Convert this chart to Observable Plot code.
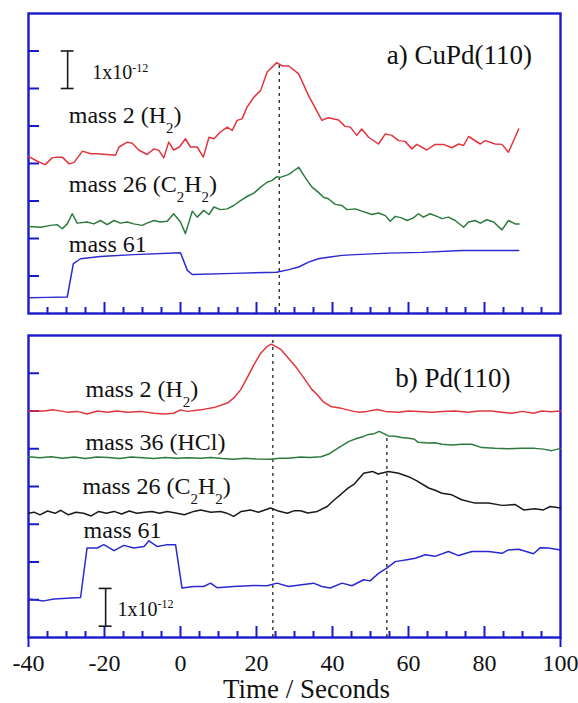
<!DOCTYPE html>
<html>
<head>
<meta charset="utf-8">
<script src="https://cdn.jsdelivr.net/npm/d3@7"></script>
<script src="https://cdn.jsdelivr.net/npm/@observablehq/plot@0.6"></script>
<style>
  html, body { margin: 0; padding: 0; background: #fff; }
  #chart svg { display: block; font-family: 'Liberation Serif', 'Times New Roman', 'DejaVu Serif', serif; }
</style>
</head>
<body>
<div id="chart"></div>
<script>
// ---------- data: [time (s), signal (units of 1x10^-12)] ----------
// Panel a) CuPd(110)
const aMass2 = [[-40,4.19],[-37.7,4.06],[-35.6,3.97],[-33.8,4.15],[-32.6,4.17],[-31.1,4.17],[-29.3,3.99],[-28,4.03],[-25.8,4.33],[-23.6,4.26],[-21.9,4.26],[-19.3,4.24],[-17.1,4.22],[-16.2,4.44],[-14,4.57],[-12.7,4.54],[-11,4.36],[-8.8,4.24],[-7,4.39],[-5.7,4.35],[-4.4,4.15],[-3.1,4.57],[-1.8,4.36],[-0.3,4.44],[1.3,4.66],[2.6,4.44],[4.4,4.44],[6,4.17],[7.5,4.7],[8.8,4.66],[10.5,4.84],[12.3,4.97],[13.6,4.88],[14.9,5.15],[16.2,5.19],[17.5,5.5],[19.3,5.77],[21.1,5.95],[22.8,6.44],[25.3,6.69],[26.8,6.6],[28.5,6.6],[31.1,6.39],[33.7,5.81],[37.2,5.15],[38.9,5.22],[41.6,5.16],[43.3,4.99],[44.7,4.97],[46.4,4.75],[47.7,4.92],[49.5,4.7],[52.1,4.52],[53.9,4.79],[55.6,4.75],[57.4,4.61],[59.1,4.59],[60.9,4.39],[62.2,4.51],[64.8,4.36],[67,4.51],[69.2,4.51],[71.4,4.42],[73.2,4.52],[74.5,4.48],[75.8,4.72],[78.9,4.52],[80.2,4.61],[82.8,4.52],[84.6,4.51],[86.3,4.3],[89,4.92]];
const aMass26 = [[-40,2.32],[-36.8,2.3],[-34.2,2.35],[-32.5,2.37],[-31.1,2.26],[-29.8,2.39],[-28.5,2.66],[-27.2,2.41],[-24.6,2.44],[-22.8,2.39],[-21.1,2.48],[-19.3,2.37],[-17.5,2.48],[-15.8,2.41],[-14,2.44],[-12.3,2.39],[-10.1,2.35],[-8.8,2.41],[-7,2.48],[-5.3,2.44],[-3.5,2.46],[-1.8,2.66],[0,2.44],[1.3,2.13],[3.1,2.73],[4.4,2.57],[6.1,2.75],[7.5,2.64],[8.8,2.84],[10.5,2.77],[12.3,2.79],[14,2.88],[15.8,3.01],[17.5,3.12],[19.3,3.21],[21.1,3.37],[22.8,3.5],[24.1,3.55],[25.4,3.65],[26.3,3.63],[28.5,3.71],[31.1,3.9],[32.8,3.63],[34.6,3.37],[36.3,3.23],[37.6,3.1],[38.9,3.06],[40.7,2.91],[42.5,2.88],[43.8,2.77],[46,2.79],[47.7,2.73],[50.4,2.64],[52.1,2.68],[53.9,2.61],[55.2,2.46],[56.5,2.59],[58.2,2.55],[59.6,2.48],[61.3,2.55],[62.6,2.66],[63.9,2.57],[65.7,2.66],[67.5,2.59],[68.8,2.53],[70.5,2.57],[72.3,2.48],[74.5,2.3],[75.8,2.44],[77.5,2.48],[78.9,2.41],[80.6,2.5],[82.4,2.44],[84.6,2.23],[86.3,2.48],[88.1,2.39],[89.1,2.39]];
const aMass61 = [[-40,0.42],[-35,0.43],[-29.8,0.44],[-28.2,1.33],[-26.3,1.46],[-21.1,1.52],[-12.3,1.57],[0,1.62],[1.8,1.15],[3.1,1.04],[14,1.07],[25.3,1.1],[28.5,1.17],[31.1,1.24],[33.7,1.37],[36.3,1.46],[38.9,1.5],[42.5,1.55],[46,1.57],[54.7,1.61],[63.5,1.63],[74,1.68],[81.1,1.68],[89,1.68]];

// Panel b) Pd(110)
const bMass2 = [[-40,6.0],[-36,6.0],[-33.3,6.03],[-29.8,5.97],[-27.2,5.99],[-24.6,5.92],[-21.9,6.0],[-19.3,5.97],[-16.7,6.0],[-14,5.97],[-10.5,5.99],[-7,5.94],[-4.4,5.92],[-1.8,5.94],[0,6.03],[1.8,5.99],[5.3,6.03],[8.8,6.09],[12.3,6.21],[14,6.34],[15.8,6.56],[17.5,6.87],[19.3,7.22],[21.1,7.53],[22.8,7.71],[23.9,7.77],[26.3,7.64],[28.4,7.4],[30.5,7.15],[32.5,6.87],[34.5,6.58],[36,6.43],[37.5,6.25],[39.5,6.12],[42.3,6.07],[45.6,5.99],[46.8,5.97],[49.1,5.99],[51.8,6.04],[53.9,5.99],[57.4,5.97],[60,6.0],[62.6,5.99],[66.1,5.97],[69,5.99],[72.3,6.0],[75.8,5.97],[78.5,6.0],[81.9,6.0],[84.5,5.97],[87.2,5.94],[90,5.99],[92.9,5.94],[95.1,6.0],[97.5,5.98],[100,6.0]];
const bMass36 = [[-40,4.79],[-37,4.76],[-34,4.79],[-31,4.75],[-28,4.78],[-25,4.74],[-22,4.78],[-19,4.77],[-16,4.74],[-13,4.78],[-10,4.76],[-7,4.74],[-4,4.77],[-1,4.75],[2,4.76],[5.3,4.75],[8,4.77],[11,4.74],[14,4.72],[17,4.75],[20,4.73],[23.7,4.72],[26,4.75],[28.4,4.75],[31.6,4.78],[34,4.77],[37,4.79],[39,4.86],[40.7,4.97],[42.5,5.08],[44.2,5.19],[46.5,5.28],[48,5.32],[49.5,5.38],[51,5.4],[52.3,5.46],[54.7,5.34],[56.5,5.33],[58.2,5.3],[60,5.28],[61.5,5.26],[62.5,5.17],[65.3,5.15],[67,5.16],[68.8,5.12],[71.4,5.1],[74,5.12],[76.6,5.12],[79.3,5.03],[82.8,5.01],[86.3,5.0],[89.8,5.01],[93.3,5.01],[95.5,4.99],[97.7,4.95],[100,5.01]];
const bMass26 = [[-40,3.29],[-38.5,3.32],[-37,3.25],[-35,3.35],[-33,3.29],[-31.5,3.37],[-29.5,3.25],[-27.5,3.32],[-25.5,3.29],[-23.5,3.22],[-21.5,3.34],[-19.5,3.29],[-17.5,3.34],[-15.5,3.27],[-13.5,3.35],[-11.5,3.29],[-9.5,3.32],[-7.5,3.34],[-5.5,3.29],[-3.5,3.34],[-1.3,3.3],[1,3.25],[3.5,3.34],[5.3,3.38],[8,3.32],[10.5,3.34],[12,3.3],[14,3.21],[16,3.34],[18.4,3.38],[20.5,3.32],[23.7,3.43],[25.5,3.36],[28.1,3.29],[30,3.36],[31.6,3.36],[33.5,3.3],[36,3.34],[38.6,3.47],[40.5,3.65],[42.3,3.8],[44,3.95],[45.8,4.07],[48.2,4.35],[50.5,4.4],[52,4.33],[54.7,4.4],[57.4,4.35],[60,4.26],[62.2,4.15],[65.3,3.96],[67,3.9],[68.8,3.82],[71.4,3.78],[74,3.65],[77.5,3.56],[81.1,3.56],[84.6,3.5],[88.1,3.52],[90.3,3.38],[93.3,3.41],[95.5,3.38],[97.3,3.47],[100,3.43]];
const bMass61 = [[-40,1.02],[-36,0.97],[-33.3,1.02],[-29.8,1.04],[-26.3,1.06],[-24.6,2.37],[-21.9,2.37],[-20.2,2.46],[-17.5,2.3],[-14.9,2.44],[-12.3,2.37],[-9.6,2.41],[-8.3,2.56],[-6.1,2.41],[-3.5,2.46],[-1.3,2.46],[0.4,1.31],[3.5,1.35],[6.1,1.35],[7.9,1.44],[9.6,1.32],[14,1.35],[19.3,1.38],[22.8,1.37],[25.4,1.44],[28.4,1.35],[31.9,1.4],[35,1.44],[37.2,1.35],[39.4,1.31],[42.5,1.44],[45.1,1.37],[48.2,1.53],[49.9,1.5],[52.1,1.7],[54.3,1.84],[56.5,2.01],[59.6,2.06],[61.8,2.1],[64.4,2.19],[67,2.15],[70.5,2.28],[73.2,2.17],[76.7,2.28],[81.1,2.28],[84.6,2.23],[86.3,2.32],[89,2.34],[92.9,2.22],[94.7,2.38],[96.8,2.37],[100,2.32]];

// peak-time markers (s)
const aPeakTimes = [26];
const bPeakTimes = [24.3, 54.3];

// axis ticks and labels
const xMajorTicks = [-40, -20, 0, 20, 40, 60, 80, 100];
const xMinorTicks = d3.range(-35, 100, 5).filter(d => d % 20 !== 0);
const yTicks = [1, 2, 3, 4, 5, 6, 7];
const xTitle = "Time / Seconds";
const aTitle = "a) CuPd(110)";
const bTitle = "b) Pd(110)";
const scaleLabel = "1x10⁻¹²";
const aLabels = ["mass 2 (H₂)", "mass 26 (C₂H₂)", "mass 61"];
const bLabels = ["mass 2 (H₂)", "mass 36 (HCl)", "mass 26 (C₂H₂)", "mass 61"];

// ---------- styling ----------
const FRAME = "#1a1acc";
const RED = "#e2343c", GREEN = "#2e7a3e", BLUE = "#2a2ad0", BLACK = "#1a1a1a";
const FONT = "'Liberation Serif', 'Times New Roman', 'DejaVu Serif', serif";

function line(data, color) {
  return Plot.line(data, {x: d => d[0], y: d => d[1], stroke: color, strokeWidth: 1.5, curve: "linear"});
}
function frameMarks(majors) {
  return [
    Plot.frame({stroke: FRAME, strokeWidth: 2.4}),
    Plot.axisY(yTicks, {anchor: "left", tickSize: -11, stroke: FRAME, strokeWidth: 2, fill: "none", label: null}),
    Plot.axisX(majors, {anchor: "bottom", tickSize: -11, stroke: FRAME, strokeWidth: 2, fill: "none", label: null}),
    Plot.axisX(xMinorTicks, {anchor: "bottom", tickSize: -6, stroke: FRAME, strokeWidth: 2, fill: "none", label: null})
  ];
}
function scaleBar(t, v0, v1) {
  const bar = [{t, v0, v1}];
  return [
    Plot.ruleX(bar, {x: "t", y1: "v0", y2: "v1", stroke: BLACK, strokeWidth: 1.6}),
    Plot.ruleY(bar, {y: "v0", x1: d => d.t - 1.7, x2: d => d.t + 1.7, stroke: BLACK, strokeWidth: 1.6}),
    Plot.ruleY(bar, {y: "v1", x1: d => d.t - 1.7, x2: d => d.t + 1.7, stroke: BLACK, strokeWidth: 1.6})
  ];
}
const txt = {textAnchor: "start", lineAnchor: "bottom", fontFamily: FONT};
const common = {
  width: 578,
  marginLeft: 28,
  marginRight: 18,
  x: {domain: [-40, 100], axis: null},
  y: {domain: [0, 8], axis: null},
  style: {fontFamily: FONT, color: "#111", background: "#fff", overflow: "visible"}
};

// ---------- panel a ----------
const chartA = Plot.plot({
  ...common,
  height: 320,
  marginTop: 13,
  marginBottom: 7,
  marks: [
    ...frameMarks([-20, 0, 20, 40, 60, 80]),
    Plot.ruleX(aPeakTimes, {x: d => d, y1: 0, y2: 6.66, stroke: "#333", strokeWidth: 1.4, strokeDasharray: "3,4"}),
    line(aMass2, RED),
    line(aMass26, GREEN),
    line(aMass61, BLUE),
    ...scaleBar(-29.7, 6, 7),
    Plot.text([scaleLabel], {...txt, x: -23.2, y: 6.26, text: d => d, fontSize: 20}),
    Plot.text(aLabels, {...txt, x: -29.4, y: (d, i) => [5.07, 3.23, 1.63][i], text: d => d, fontSize: 24}),
    Plot.text([aTitle], {...txt, x: 54.3, y: 6.66, text: d => d, fontSize: 27})
  ]
});

// ---------- panel b ----------
const chartB = Plot.plot({
  ...common,
  height: 383,
  marginTop: 15,
  marginBottom: 66,
  marks: [
    ...frameMarks([-20, 0, 20, 40, 60, 80]),
    Plot.axisX([-40, 100], {anchor: "bottom", tickSize: 10, stroke: FRAME, strokeWidth: 2, fill: "none", label: null}),
    Plot.axisX(xMajorTicks, {anchor: "bottom", tickSize: 0, tickPadding: 16, fontSize: 24, fontFamily: FONT, fill: "#111", label: null, tickFormat: d => String(d)}),
    Plot.text([xTitle], {frameAnchor: "bottom", dx: 12, dy: 60, text: d => d, lineAnchor: "bottom", fontSize: 27, fontFamily: FONT}),
    Plot.ruleX(bPeakTimes, {x: d => d, y1: 0, y2: (d, i) => [8, 5.3][i], stroke: "#333", strokeWidth: 1.4, strokeDasharray: "3,4"}),
    line(bMass2, RED),
    line(bMass36, GREEN),
    line(bMass26, BLACK),
    line(bMass61, BLUE),
    ...scaleBar(-19.7, 0.3, 1.3),
    Plot.text([scaleLabel], {...txt, x: -16.6, y: 0.58, text: d => d, fontSize: 20}),
    Plot.text(bLabels, {...txt, x: (d, i) => [-25, -25, -25.8, -25.5][i], y: (d, i) => [6.38, 4.97, 3.81, 2.64][i], text: d => d, fontSize: 24}),
    Plot.text([bTitle], {...txt, x: 56.5, y: 6.63, text: d => d, fontSize: 27})
  ]
});

// ---------- render sub/superscripts as shifted tspans ----------
const SUB = {"₀":"0","₁":"1","₂":"2","₃":"3","₄":"4","₅":"5","₆":"6","₇":"7","₈":"8","₉":"9"};
const SUP = {"⁻":"-","¹":"1","²":"2","³":"3","⁰":"0","⁴":"4","⁵":"5","⁶":"6","⁷":"7","⁸":"8","⁹":"9"};
function richify(svg) {
  svg.querySelectorAll("text").forEach(t => {
    const s = t.textContent;
    if (!/[₀-₉⁰-⁹⁻¹²³]/.test(s)) return;
    const fsEl = t.closest("[font-size]");
    const fs = fsEl ? parseFloat(fsEl.getAttribute("font-size")) : 20;
    const parts = [];
    for (const ch of s) {
      const kind = SUB[ch] ? "sub" : SUP[ch] ? "sup" : "n";
      const c = SUB[ch] || SUP[ch] || ch;
      if (parts.length && parts[parts.length - 1].kind === kind) parts[parts.length - 1].s += c;
      else parts.push({kind, s: c});
    }
    while (t.firstChild) t.removeChild(t.firstChild);
    let shift = 0;
    for (const p of parts) {
      const ts = document.createElementNS("http://www.w3.org/2000/svg", "tspan");
      const target = p.kind === "sub" ? fs * 0.42 : p.kind === "sup" ? -fs * 0.36 : 0;
      ts.setAttribute("dy", target - shift);
      shift = target;
      if (p.kind !== "n") ts.setAttribute("font-size", fs * (p.kind === "sub" ? 0.62 : 0.6));
      ts.textContent = p.s;
      t.appendChild(ts);
    }
  });
}
richify(chartA);
richify(chartB);

const root = document.getElementById("chart");
root.appendChild(chartA);
root.appendChild(chartB);
</script>
</body>
</html>
